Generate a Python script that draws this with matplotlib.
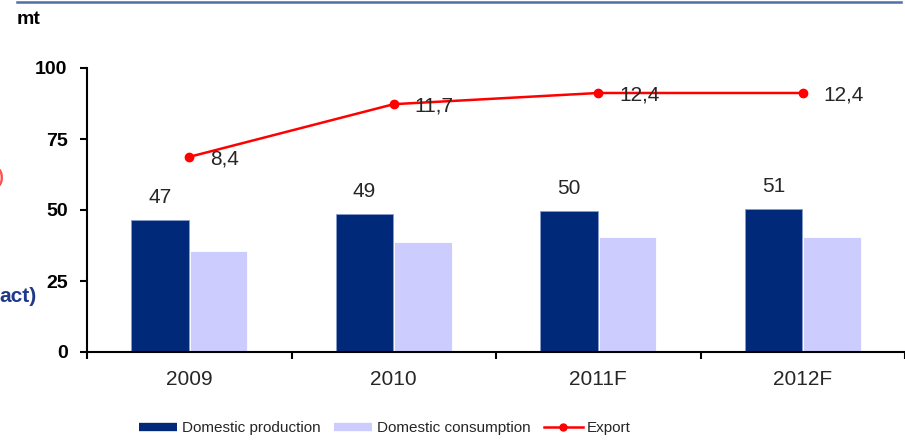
import matplotlib
matplotlib.use("Agg")
import matplotlib.pyplot as plt
from matplotlib.lines import Line2D
import numpy as np

plt.rcParams['font.family'] = ['Liberation Sans', 'DejaVu Sans']

categories = ["2009", "2010", "2011F", "2012F"]
production = [46.5, 48.6, 49.5, 50.2]
production_labels = ["47", "49", "50", "51"]
consumption = [35.6, 38.7, 40.4, 40.4]
export = [8.4, 11.7, 12.4, 12.4]
export_labels = ["8,4", "11,7", "12,4", "12,4"]
y_ticks = [0, 25, 50, 75, 100]

navy = "#00297A"
lilac = "#CCCCFF"
red = "#FF0000"
txt = "#262626"

fig = plt.figure(figsize=(9.05, 4.41), dpi=100)
ax = fig.add_axes([87/905, 89/441, 1 - 87/905, (352-68)/441])

x = np.arange(len(categories))
w = 0.28
ax.bar(x - 0.143, production, w, color=navy, edgecolor="#8a9ccc", linewidth=0.6, zorder=2)
ax.bar(x + 0.143, consumption, w, color=lilac, edgecolor="white", linewidth=0.6, zorder=2)

for xi, v, lab in zip(x, production, production_labels):
    ax.annotate(lab, (xi - 0.143, v), xytext=(0, 9.5), textcoords="offset points",
                ha="center", va="bottom", fontsize=15, color=txt)

ax.set_xlim(-0.5, 3.5)
ax.set_ylim(0, 100)
ax.set_yticks(y_ticks)
ax.set_yticklabels([str(t) for t in y_ticks], fontsize=14, fontweight="bold", color="black")
ax.set_xticks(x)
ax.set_xticklabels(categories, fontsize=15, color=txt)
ax.tick_params(axis="x", length=0, pad=13)
ax.set_xticks(np.arange(-0.5, 4.0, 1.0), minor=True)
ax.tick_params(axis="x", which="minor", length=5, width=1.5, direction="out")
ax.tick_params(axis="y", length=5, width=1.5, direction="out", pad=9)
for s in ["top", "right"]:
    ax.spines[s].set_visible(False)
ax.spines["left"].set_linewidth(1.5)
ax.spines["bottom"].set_linewidth(1.5)
ax.spines["bottom"].set_clip_on(False)

ax2 = ax.twinx()
ax2.set_ylim(-3.813, 13.964)
ax2.plot(x, export, color=red, linewidth=1.8, marker="o", markersize=6, zorder=3, clip_on=False)
for xi, v, lab in zip(x, export, export_labels):
    ax2.annotate(lab, (xi, v), xytext=(15, -1.5), textcoords="offset points",
                 ha="left", va="center", fontsize=15, color=txt)
ax2.axis("off")

# legend
handles = [
    Line2D([], [], color=navy, linewidth=6, solid_capstyle="butt"),
    Line2D([], [], color=lilac, linewidth=6, solid_capstyle="butt"),
    Line2D([], [], color=red, linewidth=1.8, marker="o", markersize=5),
]
labels = ["Domestic production", "Domestic consumption", "Export"]
fig.legend(handles, labels, loc="center", bbox_to_anchor=(385/905, 13/441), ncol=3,
           frameon=False, fontsize=11, handlelength=2.5, handletextpad=0.3,
           columnspacing=0.9, labelcolor=txt)

# header decorations
fig.add_artist(Line2D([17/905, 901/905], [1 - 1.5/441, 1 - 1.5/441], color="#4f6fa8", linewidth=1.8))
fig.text(17/905, 1 - 20/441, "mt", fontsize=14, fontweight="bold", va="center", ha="left")
fig.text(37/905, 1 - 296/441, "act)", fontsize=15, fontweight="bold", va="center", ha="right", color="#1F3A8A")
fig.text(3/905, 1 - 177/441, ")", fontsize=13, fontweight="bold", va="center", ha="right", color="#FF5050")

fig.savefig("out.png", dpi=100)
